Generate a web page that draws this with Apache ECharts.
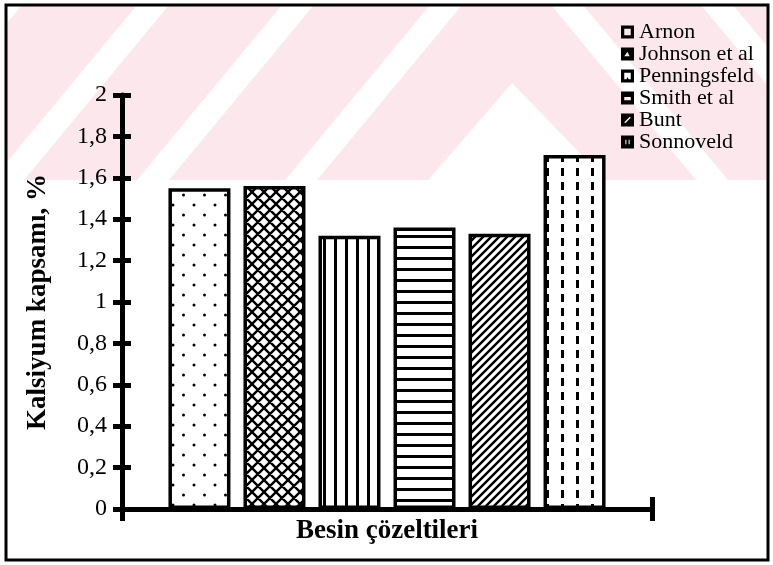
<!DOCTYPE html>
<html>
<head>
<meta charset="utf-8">
<script src="https://cdn.jsdelivr.net/npm/echarts@6/dist/echarts.min.js"></script>
<style>
  html, body { margin: 0; padding: 0; background: #fff; }
  #chart { width: 773px; height: 565px; }
</style>
</head>
<body>
<div id="chart"></div>
<script>
// Calcium content (%) measured for each nutrient solution recipe
const categories = ['Besin çözeltileri'];
const seriesNames = ['Arnon', 'Johnson et al', 'Penningsfeld', 'Smith et al', 'Bunt', 'Sonnoveld'];
const seriesValues = [1.55, 1.56, 1.32, 1.36, 1.33, 1.71];
const yTickValues = [0, 0.2, 0.4, 0.6, 0.8, 1, 1.2, 1.4, 1.6, 1.8, 2];
const yTickLabels = ['0', '0,2', '0,4', '0,6', '0,8', '1', '1,2', '1,4', '1,6', '1,8', '2'];

const SERIF = "'Liberation Serif', 'Times New Roman', serif";

// Black-on-white hatch tiles used as bar fills
function makePattern(w, h, draw) {
  const c = document.createElement('canvas');
  c.width = w; c.height = h;
  const g = c.getContext('2d');
  g.fillStyle = '#fff';
  g.fillRect(0, 0, w, h);
  g.fillStyle = '#000';
  g.strokeStyle = '#000';
  draw(g, w, h);
  return { image: c, repeat: 'repeat' };
}

const patterns = [
  // sparse staggered dots
  makePattern(21, 20, g => {
    g.beginPath(); g.arc(5, 5, 1.5, 0, Math.PI * 2); g.fill();
    g.beginPath(); g.arc(15.5, 15, 1.5, 0, Math.PI * 2); g.fill();
  }),
  // diagonal cross-hatch
  makePattern(12, 12, g => {
    g.lineWidth = 2.4;
    g.beginPath();
    for (let k = -1; k <= 1; k++) {
      g.moveTo(k * 12 - 2, -2); g.lineTo(k * 12 + 14, 14);
      g.moveTo(k * 12 + 14, -2); g.lineTo(k * 12 - 2, 14);
    }
    g.stroke();
  }),
  // vertical lines
  makePattern(11, 4, g => { g.fillRect(4, 0, 3, 4); }),
  // horizontal lines
  makePattern(4, 11, g => { g.fillRect(0, 4, 4, 3); }),
  // forward diagonal lines
  makePattern(8, 8, g => {
    g.lineWidth = 2.4;
    g.beginPath();
    for (const c of [0, 8, 16]) { g.moveTo(c + 2, -2); g.lineTo(c - 10, 10); }
    g.stroke();
  }),
  // vertical dashes
  makePattern(15, 14, g => { g.fillRect(6, 0, 3, 8); })
];

// Small legend swatches: black squares with white cut-outs
const legendIcons = [
  'path://M0,0H12V12H0Z M3,3V9H9V3Z',
  'path://M0,0H12V12H0Z M3,8L8,8L6,4Z',
  'path://M0,0H12V12H0Z M3,3L3,9L5,9L6,7L7,9L9,9L9,3Z',
  'path://M0,0H12V12H0Z M3,5V8H9V5Z',
  'path://M0,0H12V12H0Z M3,8L4,9L9,4L8,3Z',
  'path://M0,0H12V12H0Z M4,4V8H5V4Z M7,4V8H8V4Z'
];

// Faint diagonal band across the top of the page
const bandTop = 5, bandBottom = 180;
const stripeStarts = [-155, -8, 137, 285];
const rightStripeStarts = [551, 701];
const bgGraphics = [
  { type: 'rect', z: -5, silent: true,
    shape: { x: 6, y: bandTop, width: 762, height: bandBottom - bandTop },
    style: { fill: '#fce8ec' } }
];
stripeStarts.forEach(b => {
  bgGraphics.push({ type: 'polygon', z: -4, silent: true,
    shape: { points: [[b, bandBottom], [b + 32, bandBottom], [b + 32 + 145, bandTop], [b + 145, bandTop]] },
    style: { fill: '#fff' } });
});
rightStripeStarts.forEach(b => {
  bgGraphics.push({ type: 'polygon', z: -4, silent: true,
    shape: { points: [[b, bandTop], [b + 32, bandTop], [b + 32 + 145, bandBottom], [b + 145, bandBottom]] },
    style: { fill: '#fff' } });
});
bgGraphics.push({ type: 'polygon', z: -4, silent: true,
  shape: { points: [[428, bandBottom], [512, 83], [606, bandBottom]] },
  style: { fill: '#fff' } });
bgGraphics.push({ type: 'polygon', z: -4, silent: true,
  shape: { points: [[0, 0], [6, 0], [6, bandBottom], [0, bandBottom]] },
  style: { fill: '#fff' } });
bgGraphics.push({ type: 'rect', z: 20, silent: true,
  shape: { x: 6, y: 5, width: 762, height: 555 },
  style: { fill: 'none', stroke: '#000', lineWidth: 3 } });

const chart = echarts.init(document.getElementById('chart'), null, { renderer: 'canvas' });

const axisLineStyle = { color: '#000', width: 5 };

chart.setOption({
  backgroundColor: '#fff',
  animation: false,
  graphic: bgGraphics,
  legend: {
    orient: 'vertical',
    left: 621,
    top: 21,
    padding: 0,
    itemWidth: 13,
    itemHeight: 13,
    itemGap: 0,
    textStyle: { fontFamily: SERIF, fontSize: 22, lineHeight: 22, color: '#000' },
    data: seriesNames.map((name, i) => ({
      name: name,
      icon: legendIcons[i],
      itemStyle: { color: '#000', borderWidth: 0 }
    }))
  },
  grid: { left: 122, right: 121, top: 95, bottom: 56 },
  xAxis: [
    {
      type: 'category',
      data: categories,
      position: 'bottom',
      axisLine: { show: true, lineStyle: axisLineStyle },
      axisTick: { show: true, inside: false, length: 12, lineStyle: axisLineStyle },
      axisLabel: { show: false },
      splitLine: { show: false },
      name: 'Besin çözeltileri',
      nameLocation: 'middle',
      nameGap: 9,
      nameTextStyle: { fontFamily: SERIF, fontWeight: 'bold', fontSize: 27, color: '#000' }
    },
    {
      type: 'category',
      data: categories,
      position: 'bottom',
      axisLine: { show: false },
      axisTick: { show: true, inside: true, length: 12, lineStyle: axisLineStyle },
      axisLabel: { show: false },
      splitLine: { show: false }
    }
  ],
  yAxis: [
    {
      type: 'value',
      position: 'left',
      min: yTickValues[0],
      max: yTickValues[yTickValues.length - 1],
      interval: yTickValues[1] - yTickValues[0],
      axisLine: { show: true, lineStyle: axisLineStyle },
      axisTick: { show: true, inside: false, length: 9, lineStyle: axisLineStyle },
      axisLabel: {
        margin: 15,
        fontFamily: SERIF,
        fontSize: 24,
        color: '#000',
        formatter: v => {
          const i = yTickValues.findIndex(t => Math.abs(t - v) < 1e-9);
          return i >= 0 ? yTickLabels[i] : '';
        }
      },
      splitLine: { show: false },
      name: 'Kalsiyum kapsamı, %',
      nameLocation: 'middle',
      nameGap: 70,
      nameTextStyle: { fontFamily: SERIF, fontWeight: 'bold', fontSize: 27, color: '#000' }
    },
    {
      type: 'value',
      position: 'left',
      min: yTickValues[0],
      max: yTickValues[yTickValues.length - 1],
      interval: yTickValues[1] - yTickValues[0],
      axisLine: { show: false },
      axisTick: { show: true, inside: true, length: 9, lineStyle: axisLineStyle },
      axisLabel: { show: false },
      splitLine: { show: false }
    }
  ],
  series: seriesNames.map((name, i) => ({
    name: name,
    type: 'bar',
    xAxisIndex: 0,
    yAxisIndex: 0,
    data: [seriesValues[i]],
    barWidth: 62,
    barGap: '21%',
    itemStyle: { color: patterns[i], borderColor: '#000', borderWidth: 3.5 },
    emphasis: { disabled: true }
  }))
});
</script>
</body>
</html>
